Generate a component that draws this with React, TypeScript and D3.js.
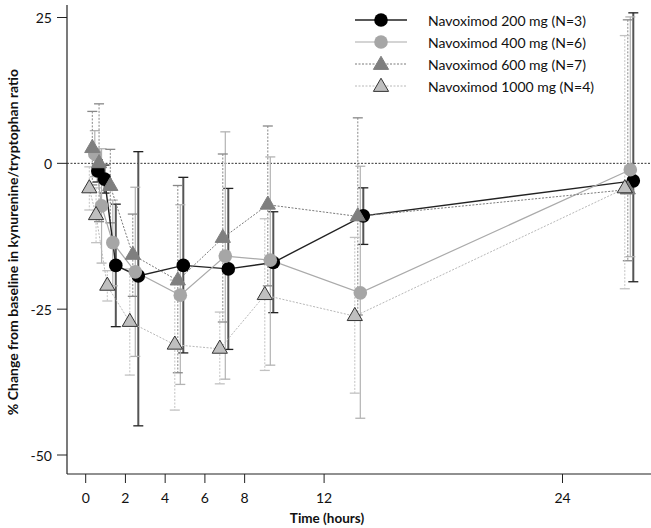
import React from "react";
import { scaleLinear, line, symbol, symbolTriangle } from "d3";

// nominal sampling times (hours)
const times = [0.2, 0.5, 1, 2, 4, 6, 8, 12, 24];
const xTicks = [0, 2, 4, 6, 8, 12, 24];
const yTicks = [25, 0, -25, -50];

const doseLabels = [
  "Navoximod 200 mg (N=3)",
  "Navoximod 400 mg (N=6)",
  "Navoximod 600 mg (N=7)",
  "Navoximod 1000 mg (N=4)"
];

// % change from baseline, mean and error bar ends
const mean200 = [-1.3, -2.7, -17.5, -19.3, -17.5, -18.1, -17.0, -9.0, -3.0];
const hi200 = [0.6, -0.3, -7.0, 2.0, -2.4, -4.3, -8.3, -4.2, 25.8];
const lo200 = [-3.2, -5.1, -28.0, -45.0, -32.5, -31.9, -25.6, -13.9, -20.3];

const mean400 = [1.6, -7.3, -13.6, -18.6, -22.6, -15.9, -16.6, -22.2, -1.1];
const hi400 = [5.6, 2.5, -6.3, -4.1, -7.1, 5.4, 1.1, -0.5, 25.1];
const lo400 = [-2.3, -17.1, -21.0, -33.1, -37.9, -37.0, -34.6, -43.7, -16.0];

const mean600 = [2.6, 0.0, -3.9, -15.7, -20.1, -12.8, -7.1, -9.1, -4.5];
const hi600 = [8.9, 10.2, 2.4, -8.7, -3.8, 1.6, 6.4, 7.8, 24.6];
const lo600 = [-3.7, -10.0, -10.2, -22.8, -35.9, -27.2, -21.0, -26.0, -16.7];

const mean1000 = [-4.3, -8.9, -21.0, -27.2, -31.1, -31.8, -22.6, -26.2, -4.3];
const hi1000 = [-0.6, -4.2, -18.4, -18.1, -20.0, -25.5, -9.5, -12.7, 21.9];
const lo1000 = [-8.0, -13.6, -23.6, -36.3, -42.3, -37.8, -35.5, -39.4, -21.5];

const font = "Lato, 'Open Sans', sans-serif";

const series = [
  {
    label: doseLabels[0], mean: mean200, hi: hi200, lo: lo200, shift: 4.3,
    shape: "circle", fill: "#000", stroke: "none",
    line: "#222", lineW: 1.4, dash: null,
    bar: "#555", barW: 2, cap: "#222", barDash: null
  },
  {
    label: doseLabels[1], mean: mean400, hi: hi400, lo: lo400, shift: 1.3,
    shape: "circle", fill: "#a6a6a6", stroke: "none",
    line: "#aaa", lineW: 1.2, dash: null,
    bar: "#b3b3b3", barW: 1.2, cap: "#b3b3b3", barDash: null
  },
  {
    label: doseLabels[2], mean: mean600, hi: hi600, lo: lo600, shift: -1.2,
    shape: "triangle", fill: "#7f7f7f", stroke: "#7f7f7f",
    line: "#7a7a7a", lineW: 1, dash: "2,1.5",
    bar: "#888", barW: 1, cap: "#888", barDash: "2,1.5"
  },
  {
    label: doseLabels[3], mean: mean1000, hi: hi1000, lo: lo1000, shift: -4.2,
    shape: "triangle", fill: "#bfbfbf", stroke: "#333",
    line: "#b8b8b8", lineW: 1, dash: "2,1.5",
    bar: "#c2c2c2", barW: 1, cap: "#c2c2c2", barDash: "2,1.5"
  }
];

function Marker({ s, x, y }) {
  if (s.shape === "circle") {
    return <circle cx={x} cy={y} r={6.8} fill={s.fill} />;
  }
  const tri = symbol(symbolTriangle, 100)();
  return (
    <path
      d={tri}
      transform={`translate(${x},${y})`}
      fill={s.fill}
      stroke={s.stroke}
      strokeWidth={1}
    />
  );
}

export default function App() {
  const width = 651,
    height = 528;

  // plotted positions of the points
  const xScale = scaleLinear().domain([0, 24]).range([89, 629]);
  // the figure's time axis labels sit on a tighter spacing than the data
  const xAxisScale = scaleLinear().domain([0, 24]).range([85.7, 562.5]);
  const yScale = scaleLinear().domain([-50, 25]).range([455, 17.5]);

  const axisX = 67,
    axisY = 474;

  return (
    <svg
      width={width}
      height={height}
      style={{ position: "absolute", left: 0, top: 0, background: "#fff" }}
      fontFamily={font}
    >
      {/* axes */}
      <line x1={axisX} x2={axisX} y1={5} y2={axisY} stroke="#222" strokeWidth={1.2} />
      <line x1={axisX} x2={width} y1={axisY} y2={axisY} stroke="#222" strokeWidth={1.2} />

      {yTicks.map(t => (
        <g key={t}>
          <line x1={axisX - 10} x2={axisX} y1={yScale(t)} y2={yScale(t)} stroke="#222" />
          <text
            x={axisX - 15}
            y={yScale(t)}
            textAnchor="end"
            dominantBaseline="central"
            fontSize={14}
            fill="#111"
          >
            {t}
          </text>
        </g>
      ))}

      {xTicks.map(t => (
        <g key={t}>
          <line
            x1={xAxisScale(t)}
            x2={xAxisScale(t)}
            y1={axisY}
            y2={axisY + 9}
            stroke="#222"
          />
          <text
            x={xAxisScale(t)}
            y={axisY + 23}
            textAnchor="middle"
            dominantBaseline="central"
            fontSize={14}
            fill="#111"
          >
            {t}
          </text>
        </g>
      ))}

      <text x={327} y={518} textAnchor="middle" dominantBaseline="central" fontSize={13.5} fontWeight="bold" fill="#111">
        Time (hours)
      </text>
      <text
        transform={`translate(12, 242) rotate(-90)`}
        textAnchor="middle"
        dominantBaseline="central"
        fontSize={14}
        fontWeight="bold"
        fill="#111"
      >
        % Change from baseline in kynurenine/tryptophan ratio
      </text>

      {/* zero reference */}
      <line
        x1={axisX}
        x2={width}
        y1={yScale(0)}
        y2={yScale(0)}
        stroke="#333"
        strokeWidth={1}
        strokeDasharray="2,1.5"
      />

      {/* error bars */}
      {series.map(s =>
        times.map((t, i) => {
          const x = xScale(t) + s.shift;
          return (
            <g key={s.label + i}>
              <line
                x1={x}
                x2={x}
                y1={yScale(s.hi[i])}
                y2={yScale(s.lo[i])}
                stroke={s.bar}
                strokeWidth={s.barW}
                strokeDasharray={s.barDash || undefined}
              />
              <line x1={x - 5} x2={x + 5} y1={yScale(s.hi[i])} y2={yScale(s.hi[i])} stroke={s.cap} strokeWidth={1.3} />
              <line x1={x - 5} x2={x + 5} y1={yScale(s.lo[i])} y2={yScale(s.lo[i])} stroke={s.cap} strokeWidth={1.3} />
            </g>
          );
        })
      )}

      {/* connecting lines */}
      {series.map(s => {
        const path = line()
          .x((d, i) => xScale(times[i]) + s.shift)
          .y(d => yScale(d));
        return (
          <path
            key={s.label}
            d={path(s.mean)}
            fill="none"
            stroke={s.line}
            strokeWidth={s.lineW}
            strokeDasharray={s.dash || undefined}
          />
        );
      })}

      {/* markers */}
      {series.map(s =>
        s.mean.map((v, i) => (
          <Marker key={s.label + "m" + i} s={s} x={xScale(times[i]) + s.shift} y={yScale(v)} />
        ))
      )}

      {/* legend */}
      {series.map((s, i) => {
        const ly = 20 + i * 22;
        return (
          <g key={s.label + "leg"}>
            <line
              x1={355}
              x2={407}
              y1={ly}
              y2={ly}
              stroke={s.line}
              strokeWidth={s.lineW}
              strokeDasharray={s.dash || undefined}
            />
            <Marker s={s} x={381} y={ly + (s.shape === "triangle" ? 1 : 0)} />
            <text x={428} y={ly} dominantBaseline="central" fontSize={14} fill="#111">
              {s.label}
            </text>
          </g>
        );
      })}
    </svg>
  );
}
